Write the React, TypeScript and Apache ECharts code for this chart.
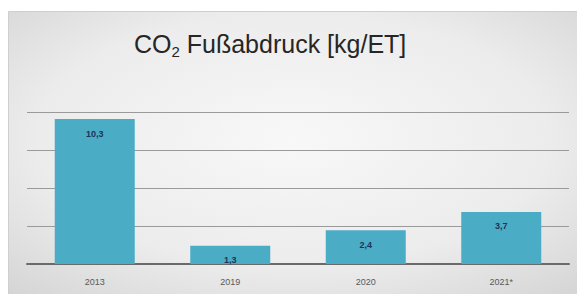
import React, { useEffect, useRef } from "react";
import * as echarts from "echarts";

const categories = ["2013", "2019", "2020", "2021*"];
const values = [10.3, 1.3, 2.4, 3.7];
const yMax = 10.8;
const yInterval = 2.7;

export default function App() {
  const ref = useRef<HTMLDivElement>(null);
  useEffect(() => {
    if (!ref.current) return;
    const chart = echarts.init(ref.current, undefined, { renderer: "svg" });
    const font = "Liberation Sans";
    chart.setOption({
      animation: false,
      backgroundColor: "#ffffff",
      graphic: [
        {
          type: "rect",
          z: -1,
          shape: { x: 8.5, y: 11.5, width: 570, height: 284 },
          style: {
            fill: new echarts.graphic.RadialGradient(0.5, 0.45, 0.75, [
              { offset: 0, color: "#f8f8f8" },
              { offset: 0.6, color: "#ececec" },
              { offset: 1, color: "#d4d4d4" },
            ]),
            stroke: "#cfcfcf",
            lineWidth: 1,
          },
        },
      ],
      title: {
        text: "{a|CO}{b|2}{a| Fußabdruck [kg/ET]}",
        left: 129,
        top: 24,
        textStyle: {
          fontWeight: "normal",
          rich: {
            a: { fontFamily: font, fontSize: 25, fontWeight: "normal", color: "#262626", lineHeight: 30, verticalAlign: "middle" },
            b: { fontFamily: font, fontSize: 15, fontWeight: "normal", color: "#262626", lineHeight: 14, verticalAlign: "bottom" },
          },
        },
      },
      grid: { left: 27, right: 8, top: 112, bottom: 30 },
      xAxis: {
        type: "category",
        data: categories,
        axisLine: { lineStyle: { color: "#6a6a6a", width: 2 } },
        axisTick: { show: false },
        axisLabel: { color: "#595959", fontSize: 9, fontFamily: font, margin: 13 },
      },
      yAxis: {
        type: "value",
        min: 0,
        max: yMax,
        interval: yInterval,
        axisLabel: { show: false },
        axisLine: { show: false },
        axisTick: { show: false },
        splitLine: { lineStyle: { color: "#9a9a9a", width: 1 } },
      },
      series: [
        {
          type: "bar",
          data: values,
          barWidth: 80,
          itemStyle: { color: "#4bacc6" },
          label: {
            show: true,
            position: "insideTop",
            distance: 10,
            fontSize: 9,
            fontWeight: "bold",
            fontFamily: font,
            color: "#1d3557",
            formatter: (p: any) => String(p.value).replace(".", ","),
          },
        },
      ],
    });
    return () => chart.dispose();
  }, []);
  return (
    <div
      ref={ref}
      style={{ position: "absolute", left: 0, top: 0, width: 577, height: 294 }}
    />
  );
}
